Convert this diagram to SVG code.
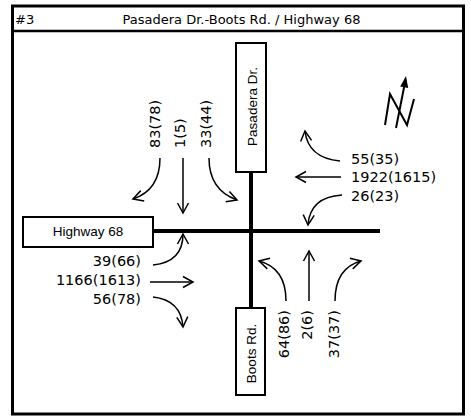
<svg xmlns="http://www.w3.org/2000/svg" width="471" height="416" viewBox="0 0 471 416">
<style>
.frame{fill:#fff;stroke:#000;stroke-width:3}
.hdr{fill:none;stroke:#000;stroke-width:2.5}
.box{fill:#fff;stroke:#000;stroke-width:2}
.road{fill:none;stroke:#000;stroke-width:4}
.mv{fill:none;stroke:#000;stroke-width:1.5;marker-end:url(#ah)}
.north{fill:none;stroke:#000;stroke-width:2;stroke-linejoin:miter}
.title{font-family:"DejaVu Sans",Verdana,sans-serif;font-size:13px;fill:#000}
.num{font-family:"DejaVu Sans",Verdana,sans-serif;font-size:14.5px;fill:#000}
.lbl{font-family:"Liberation Sans",Arial,sans-serif;font-size:13.5px;fill:#000}
</style>
<defs>
<marker id="ah" markerUnits="userSpaceOnUse" markerWidth="14" markerHeight="14" viewBox="-12 -7 14 14" refX="0" refY="0" orient="auto">
<path d="M-10,-5.5 L0,0 L-10,5.5" fill="none" stroke="#000" stroke-width="1.5"/>
</marker>
</defs>
<rect class="frame" x="12.5" y="6" width="451" height="408"/>
<line class="hdr" x1="12.5" y1="31" x2="463.5" y2="31"/>
<text class="title" x="15" y="24">#3</text>
<text class="title" x="241.5" y="24" text-anchor="middle">Pasadera Dr.-Boots Rd. / Highway 68</text>

<g id="connectors">
<line class="road" x1="152" y1="231" x2="380" y2="231"/>
<line class="road" x1="251" y1="172" x2="251" y2="308"/>
<path class="mv" d="M160,158 Q160,190 133,199"/>
<path class="mv" d="M183,158 L183,213"/>
<path class="mv" d="M209,158 Q209,190 237,200"/>
<path class="mv" d="M153,265 Q183,262 183,234"/>
<path class="mv" d="M150,282 L193,282"/>
<path class="mv" d="M153,297 Q181,300 183,327"/>
<path class="mv" d="M340,161 Q308,158 305,131"/>
<path class="mv" d="M341,177 L296,177"/>
<path class="mv" d="M342,195 Q310,197 308,225"/>
<path class="mv" d="M286,301 Q286,268 259,261"/>
<path class="mv" d="M309,301 L309,251"/>
<path class="mv" d="M335,301 Q335,268 361,261"/>
</g>

<g id="node-pasadera">
<rect class="box" x="236" y="43" width="30" height="129"/>
<text class="lbl" transform="translate(256.5,106.5) rotate(-90)" text-anchor="middle">Pasadera Dr.</text>
</g>
<g id="node-boots">
<rect class="box" x="236" y="308" width="29" height="87"/>
<text class="lbl" transform="translate(256,353.5) rotate(-90)" text-anchor="middle">Boots Rd.</text>
</g>
<g id="node-highway">
<rect class="box" x="23" y="217" width="130" height="30"/>
<text class="lbl" x="88" y="236" text-anchor="middle">Highway 68</text>
</g>

<g id="north-arrow">
<polyline class="north" points="385,125 390,94 407,125 414,99"/>
<line class="north" x1="396" y1="128" x2="404.5" y2="85"/>
<polygon points="406,76 400.2,86.5 408.2,88" fill="#000"/>
</g>

<g id="volumes">
<text class="num" transform="translate(160,148) rotate(-90)">83(78)</text>
<text class="num" transform="translate(185,148) rotate(-90)">1(5)</text>
<text class="num" transform="translate(211,148) rotate(-90)">33(44)</text>
<text class="num" transform="translate(288.5,310) rotate(-90)" text-anchor="end">64(86)</text>
<text class="num" transform="translate(312,310) rotate(-90)" text-anchor="end">2(6)</text>
<text class="num" transform="translate(338.5,310) rotate(-90)" text-anchor="end">37(37)</text>
<text class="num" x="141" y="266" text-anchor="end">39(66)</text>
<text class="num" x="141" y="285" text-anchor="end">1166(1613)</text>
<text class="num" x="141" y="304" text-anchor="end">56(78)</text>
<text class="num" x="351" y="164">55(35)</text>
<text class="num" x="351" y="182">1922(1615)</text>
<text class="num" x="351" y="201">26(23)</text>
</g>
</svg>
